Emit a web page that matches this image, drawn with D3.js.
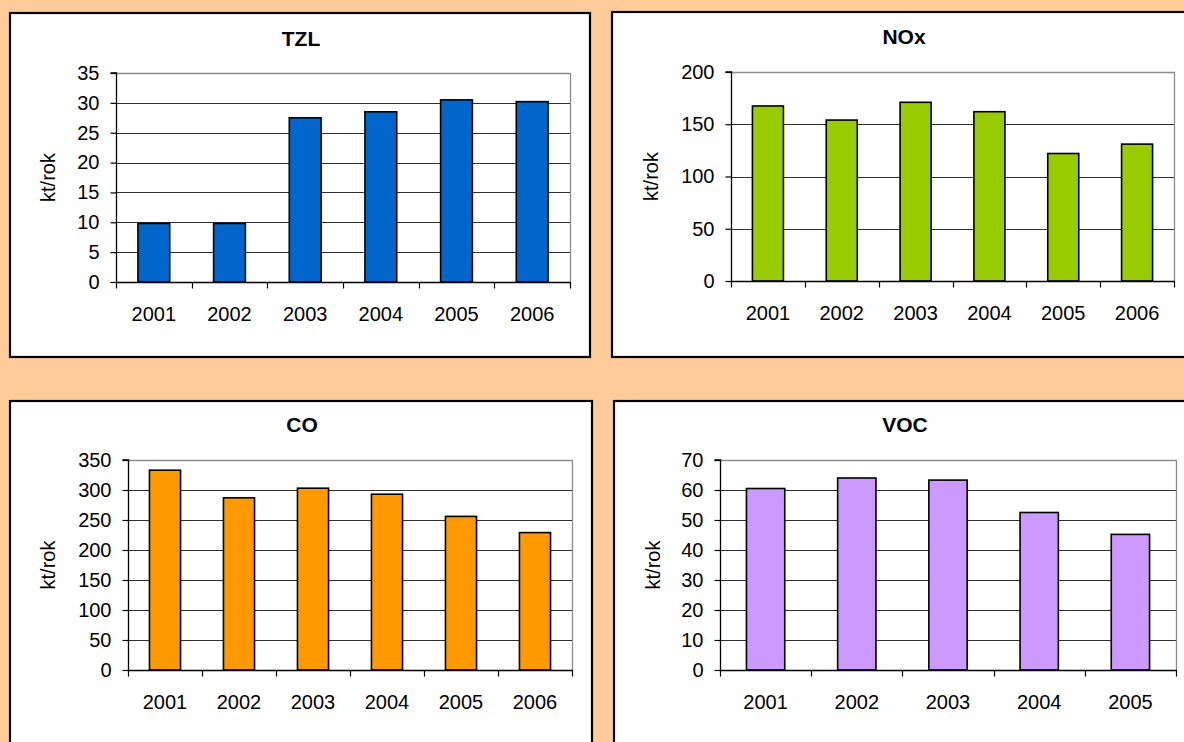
<!DOCTYPE html>
<html>
<head>
<meta charset="utf-8">
<script src="https://cdn.jsdelivr.net/npm/d3@7"></script>
<style>
  html, body { margin: 0; padding: 0; background: #FFCC99; overflow: hidden; }
  svg { display: block; }
  text { font-family: "Liberation Sans", Arial, sans-serif; fill: #000; }
</style>
</head>
<body>
<svg id="chart" width="1184" height="742"></svg>
<script>
// ---- data ----
const years6 = ["2001", "2002", "2003", "2004", "2005", "2006"];
const years5 = ["2001", "2002", "2003", "2004", "2005"];

const tzlValues = [9.8, 9.8, 27.5, 28.5, 30.5, 30.2];
const noxValues = [167.5, 154, 171, 162, 122, 131];
const coValues  = [333, 287, 303, 293, 256, 229];
const vocValues = [60.5, 64, 63.3, 52.5, 45.2];

const tzlTicks = [0, 5, 10, 15, 20, 25, 30, 35];
const noxTicks = [0, 50, 100, 150, 200];
const coTicks  = [0, 50, 100, 150, 200, 250, 300, 350];
const vocTicks = [0, 10, 20, 30, 40, 50, 60, 70];

const titles = ["TZL", "NOx", "CO", "VOC"];
const yTitle = "kt/rok";

// ---- layout (not data) ----
const panels = [
  { title: titles[0], cats: years6, vals: tzlValues, ticks: tzlTicks, color: "#0066CC",
    box: { x: 10, y: 13, w: 580, h: 344 }, plot: { l: 116, t: 73, r: 570, b: 282 }, titleY: 46, yLabX: 48 },
  { title: titles[1], cats: years6, vals: noxValues, ticks: noxTicks, color: "#99CC00",
    box: { x: 612, y: 12, w: 582, h: 345 }, plot: { l: 731, t: 72, r: 1174, b: 281 }, titleY: 44, yLabX: 651 },
  { title: titles[2], cats: years6, vals: coValues, ticks: coTicks, color: "#FF9900",
    box: { x: 10, y: 401, w: 582, h: 345 }, plot: { l: 128, t: 460, r: 572, b: 670 }, titleY: 432, yLabX: 48 },
  { title: titles[3], cats: years5, vals: vocValues, ticks: vocTicks, color: "#CC99FF",
    box: { x: 614, y: 401, w: 580, h: 345 }, plot: { l: 720, t: 460, r: 1176, b: 670 }, titleY: 432, yLabX: 653 }
];

const svg = d3.select("#chart");
const barFrac = 0.42;

panels.forEach(p => {
  const g = svg.append("g");
  // panel box
  g.append("rect")
    .attr("x", p.box.x).attr("y", p.box.y)
    .attr("width", p.box.w).attr("height", p.box.h)
    .attr("fill", "#fff").attr("stroke", "#000").attr("stroke-width", 2.2);

  const x = d3.scaleBand().domain(p.cats).range([p.plot.l, p.plot.r]).paddingInner(0).paddingOuter(0);
  const y = d3.scaleLinear().domain([0, d3.max(p.ticks)]).range([p.plot.b, p.plot.t]);

  // gridlines
  g.append("g").selectAll("line").data(p.ticks.filter(t => t > 0 && t < d3.max(p.ticks)))
    .join("line")
    .attr("x1", p.plot.l).attr("x2", p.plot.r)
    .attr("y1", d => Math.round(y(d)) + 0.5).attr("y2", d => Math.round(y(d)) + 0.5)
    .attr("stroke", "#303030").attr("stroke-width", 1);

  // plot area border (top & right), gray
  g.append("path")
    .attr("d", `M${p.plot.l},${Math.round(p.plot.t) + 0.5}H${p.plot.r + 0.5}V${p.plot.b}`)
    .attr("fill", "none").attr("stroke", "#8c8c8c").attr("stroke-width", 1.3);

  // bars
  g.append("g").selectAll("rect").data(p.cats.map((c, i) => ({ c, v: p.vals[i] })))
    .join("rect")
    .attr("x", d => x(d.c) + x.bandwidth() * (1 - barFrac) / 2)
    .attr("width", x.bandwidth() * barFrac)
    .attr("y", d => y(d.v))
    .attr("height", d => y(0) - y(d.v))
    .attr("fill", p.color).attr("stroke", "#000").attr("stroke-width", 1.6);

  // y axis
  const yAxis = d3.axisLeft(y).tickValues(p.ticks).tickSize(6).tickPadding(11).tickFormat(d3.format("d"));
  const ya = g.append("g").attr("transform", `translate(${p.plot.l + 0.5},0)`).call(yAxis);
  ya.select(".domain").attr("stroke", "#000").attr("stroke-width", 1.3).attr("d", `M-6,${p.plot.t}H0V${p.plot.b}`);
  ya.selectAll(".tick line").attr("stroke", "#000").attr("stroke-width", 1.2);
  ya.selectAll(".tick text").attr("font-size", 20).attr("font-family", "Liberation Sans, Arial, sans-serif").attr("fill", "#000");

  // x axis
  const xa = g.append("g").attr("transform", `translate(0,${p.plot.b + 0.5})`);
  xa.append("line").attr("x1", p.plot.l).attr("x2", p.plot.r + 1).attr("y1", 0).attr("y2", 0)
    .attr("stroke", "#000").attr("stroke-width", 1.6);
  const bounds = p.cats.map(c => x(c)).concat([p.plot.r]);
  xa.selectAll("line.tk").data(bounds).join("line").attr("class", "tk")
    .attr("x1", d => Math.round(d) + 0.5).attr("x2", d => Math.round(d) + 0.5)
    .attr("y1", 0).attr("y2", 6).attr("stroke", "#000").attr("stroke-width", 1.2);
  xa.selectAll("text").data(p.cats).join("text")
    .attr("x", d => x(d) + x.bandwidth() / 2)
    .attr("y", 38)
    .attr("text-anchor", "middle").attr("font-size", 20)
    .text(d => d);

  // title
  g.append("text")
    .attr("x", p.box.x + p.box.w / 2 + 1).attr("y", p.titleY)
    .attr("text-anchor", "middle").attr("font-size", 21).attr("font-weight", "bold")
    .text(p.title);

  // y title
  const cy = (p.plot.t + p.plot.b) / 2;
  g.append("text")
    .attr("transform", `translate(${p.yLabX + 7},${cy}) rotate(-90)`)
    .attr("text-anchor", "middle").attr("font-size", 20)
    .text(yTitle);
});
</script>
</body>
</html>
